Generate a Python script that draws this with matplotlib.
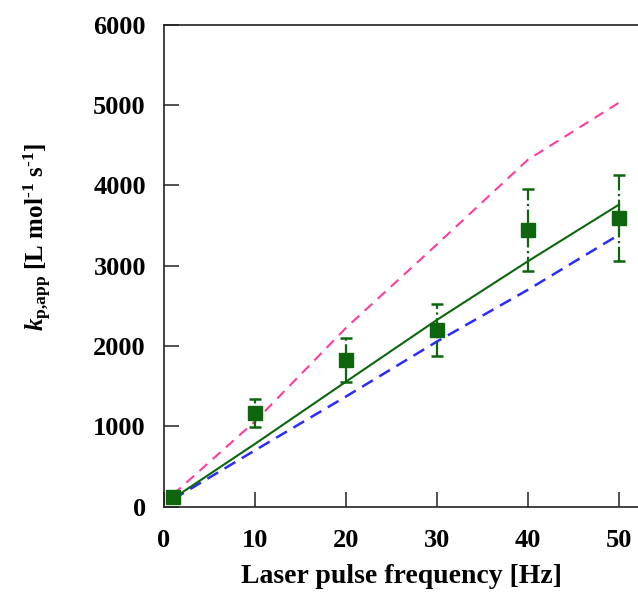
import matplotlib
matplotlib.use('Agg')
import matplotlib.pyplot as plt
import numpy as np

# measured points
freq = [1, 10, 20, 30, 40, 50]
kp = [120, 1160, 1830, 2200, 3440, 3600]
kp_hi = [120, 1340, 2105, 2520, 3960, 4135]
kp_lo = [120, 985, 1555, 1870, 2930, 3060]

# model curves
model_freq = [1, 10, 20, 30, 40, 50]
kp_pink = [150, 1060, 2225, 3265, 4320, 5030]
kp_green = [100, 780, 1555, 2325, 3055, 3760]
kp_blue = [90, 700, 1370, 2055, 2700, 3385]

plt.rcParams['font.family'] = 'Liberation Serif'
plt.rcParams['font.weight'] = 'bold'
plt.rcParams['mathtext.fontset'] = 'custom'
plt.rcParams['mathtext.rm'] = 'Liberation Serif:bold'
plt.rcParams['mathtext.it'] = 'Liberation Serif:italic'
plt.rcParams['mathtext.bf'] = 'Liberation Serif:bold'

fig = plt.figure(figsize=(6.38, 5.92), dpi=100)
ax = fig.add_axes([0.257, 0.1444, 0.743, 0.8136])

ax.plot(model_freq, kp_pink, color='#ff3c9a', lw=1.5, dashes=(5, 3.5))
ax.plot(model_freq, kp_blue, color='#2b2bff', lw=1.8, dashes=(5, 3))
ax.plot(model_freq, kp_green, color='#0d660d', lw=1.5)

yerr = [np.array(kp) - np.array(kp_lo), np.array(kp_hi) - np.array(kp)]
eb = ax.errorbar(freq, kp, yerr=yerr, fmt='s', color='#0d660d', ms=9.5,
                 ecolor='#0d660d', elinewidth=1.6, capsize=4.5, capthick=1.8)
for line in eb[2]:
    line.set_linestyle('-.')

ax.set_xlim(0, 52.1)
ax.set_ylim(0, 6000)
ax.set_xticks([0, 10, 20, 30, 40, 50])
ax.set_yticks([0, 1000, 2000, 3000, 4000, 5000, 6000])
ax.spines['right'].set_visible(False)
for s in ['left', 'bottom', 'top']:
    ax.spines[s].set_linewidth(1.2)
    ax.spines[s].set_color('#222222')

ax.tick_params(axis='both', direction='in', length=11, width=1.2,
               labelsize=19, color='#333333')
ax.tick_params(axis='y', pad=13)
ax.tick_params(axis='x', pad=16)
ax.tick_params(axis='y', which='both', right=False)
ax.tick_params(axis='x', which='both', top=False)
for lab in ax.get_xticklabels() + ax.get_yticklabels():
    lab.set_fontweight('bold')

ax.set_xlabel('Laser pulse frequency [Hz]', fontsize=20, fontweight='bold', labelpad=9)
ax.set_ylabel(r'$k_{\mathrm{p{,}app}}$ [L mol$^{\text{-1}}$ s$^{\text{-1}}$]',
              fontsize=18, fontweight='bold')
ax.yaxis.set_label_coords(-0.233, 0.56)

fig.savefig('out.png', dpi=100)
